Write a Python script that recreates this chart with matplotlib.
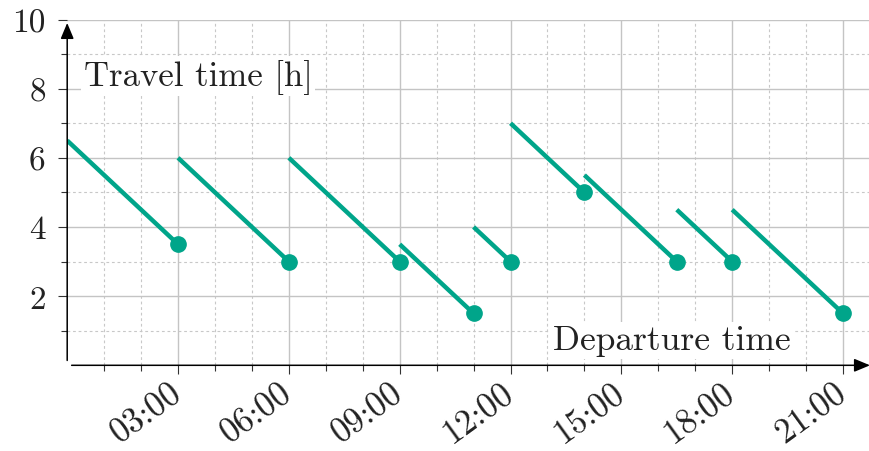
import matplotlib
matplotlib.use("Agg")
import matplotlib.pyplot as plt
from matplotlib.ticker import FixedLocator

# ---- data ----
seg_start_x = [0, 3, 6, 9, 11, 12, 14, 16.5, 18]
seg_end_x = [3, 6, 9, 11, 12, 14, 16.5, 18, 21]
seg_start_y = [6.5, 6, 6, 3.5, 4, 7, 5.5, 4.5, 4.5]
seg_end_y = [3.5, 3, 3, 1.5, 3, 5, 3, 3, 1.5]
xtick_pos = [3, 6, 9, 12, 15, 18, 21]
xtick_labels = ["03:00", "06:00", "09:00", "12:00", "15:00", "18:00", "21:00"]
xminor_pos = [1, 2, 4, 5, 7, 8, 10, 11, 13, 14, 16, 17, 19, 20]
ytick_pos = [2, 4, 6, 8, 10]
ytick_labels = ["2", "4", "6", "8", "10"]
yminor_pos = [1, 3, 5, 7, 9]

plt.rcParams['font.family'] = ['cmr10', 'DejaVu Serif']
plt.rcParams['axes.formatter.use_mathtext'] = True

color = '#00A58A'
fig = plt.figure(figsize=(8.7, 4.52), dpi=100)
ax = fig.add_axes([67.2 / 870, 1 - 366.3 / 452, 1 - 67.2 / 870, (366.3 - 20.5) / 452])
ax.set_xlim(0, 21.73)
ax.set_ylim(0, 10)

for s in ax.spines.values():
    s.set_visible(False)

ax.xaxis.set_major_locator(FixedLocator(xtick_pos))
ax.xaxis.set_minor_locator(FixedLocator(xminor_pos))
ax.yaxis.set_major_locator(FixedLocator(ytick_pos))
ax.yaxis.set_minor_locator(FixedLocator(yminor_pos))
ax.set_xticklabels(xtick_labels)
ax.set_yticklabels(ytick_labels)

ax.grid(which='major', color='#c4c4c4', lw=1.0, ls='-', zorder=0)
ax.grid(which='minor', color='#c8c8c8', lw=0.8, ls=(0, (2.5, 2.5)), zorder=0)
ax.set_axisbelow(True)

ax.tick_params(axis='both', which='major', direction='out', length=6.5, width=0.8,
               color='#333333', labelcolor='#222222')
ax.tick_params(axis='both', which='minor', direction='out', length=4.3, width=0.8,
               color='#333333')
ax.tick_params(axis='y', which='major', pad=9, labelsize=24)
ax.tick_params(axis='x', which='major', pad=11, labelsize=25)
for lab in ax.get_xticklabels():
    lab.set_rotation(36)
    lab.set_ha('right')
    lab.set_va('center')
    lab.set_rotation_mode('anchor')

for x0, x1, y0, y1 in zip(seg_start_x, seg_end_x, seg_start_y, seg_end_y):
    ax.plot([x0, x1], [y0, y1], color=color, lw=3.2, solid_capstyle='butt', zorder=3)
    ax.plot([x1], [y1], 'o', color=color, ms=11, zorder=4)

# axis arrows
ax.annotate('', xy=(0, 9.9), xytext=(0, 0.14), xycoords='data',
            arrowprops=dict(arrowstyle='-|>,head_length=0.6,head_width=0.25', color='black',
                            lw=1.1, mutation_scale=16, shrinkA=0, shrinkB=0),
            annotation_clip=False)
ax.annotate('', xy=(21.73, 0), xytext=(0.12, 0), xycoords='data',
            arrowprops=dict(arrowstyle='-|>,head_length=0.6,head_width=0.25', color='black',
                            lw=1.1, mutation_scale=16, shrinkA=0, shrinkB=0),
            annotation_clip=False)

ax.text(0.45, 8.36, 'Travel time [h]', fontsize=25, ha='left', va='center', color='#222222',
        bbox=dict(facecolor='white', edgecolor='none', pad=2), zorder=5)
ax.text(13.15, 0.72, 'Departure time', fontsize=25.5, ha='left', va='center', color='#222222',
        bbox=dict(facecolor='white', edgecolor='none', pad=2), zorder=5)

fig.savefig('out.png', dpi=100)
